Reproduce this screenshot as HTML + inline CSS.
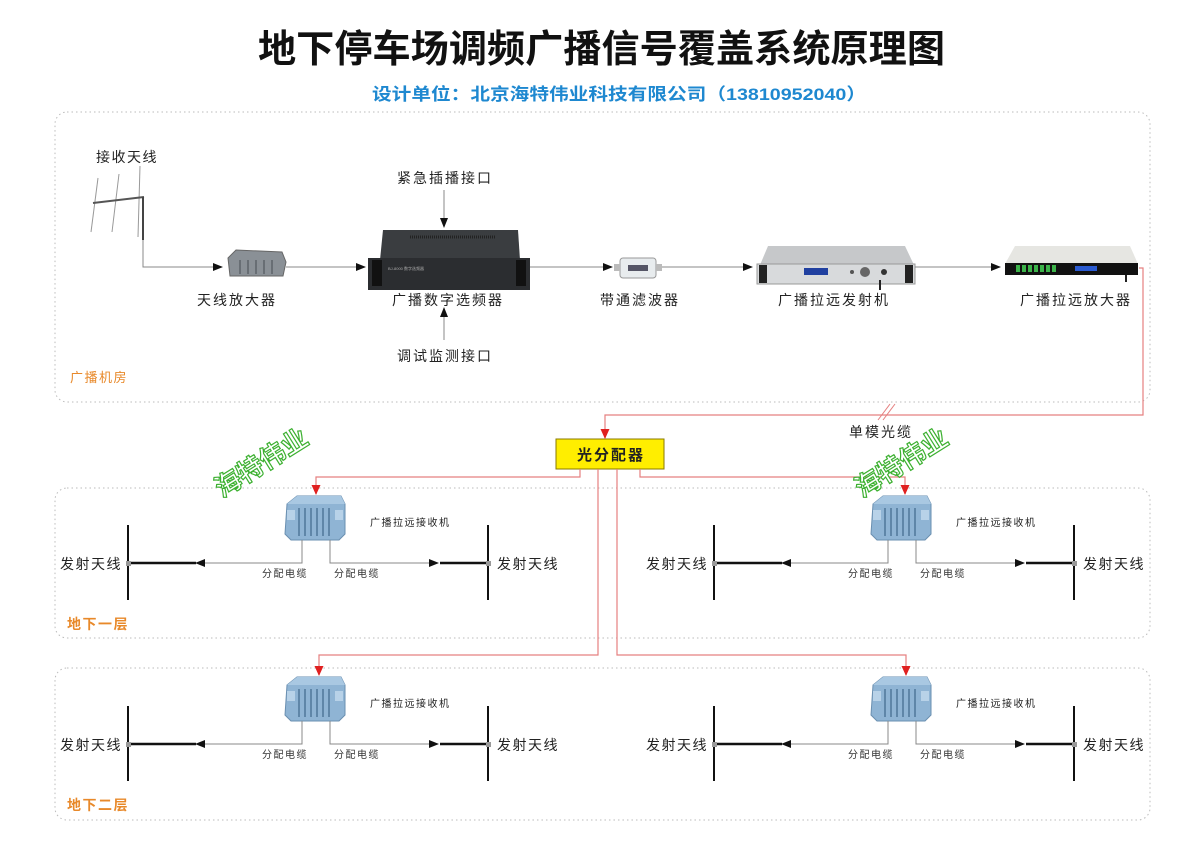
<!DOCTYPE html>
<html><head><meta charset="utf-8"><style>
html,body{margin:0;padding:0;background:#fff}
svg{display:block}
text{font-family:"Liberation Sans","Noto Sans CJK SC",sans-serif}
.l{letter-spacing:2px}
.f{letter-spacing:1.5px}
</style></head><body>
<svg width="1200" height="846" viewBox="0 0 1200 846" xmlns="http://www.w3.org/2000/svg">
<defs>
<marker id="ab" markerWidth="10" markerHeight="8" refX="9" refY="4" orient="auto" markerUnits="userSpaceOnUse"><path d="M0,0 L10,4 L0,8 z" fill="#111"/></marker>
<marker id="ar" markerWidth="10" markerHeight="9" refX="9" refY="4.5" orient="auto" markerUnits="userSpaceOnUse"><path d="M0,0 L10,4.5 L0,9 z" fill="#e02020"/></marker>
<g id="rx">
<path d="M4,8 L14,0 L58,0 L62,8 L62,38 L56,44 L8,44 L2,38 Z" fill="#8fb4d4" stroke="#6a8fb0" stroke-width="1"/>
<path d="M4,8 L14,0 L58,0 L62,8 Z" fill="#a9c8e2"/>
<g stroke="#5f86a8" stroke-width="2"><line x1="16" y1="12" x2="16" y2="40"/><line x1="22" y1="12" x2="22" y2="40"/><line x1="28" y1="12" x2="28" y2="40"/><line x1="34" y1="12" x2="34" y2="40"/><line x1="40" y1="12" x2="40" y2="40"/><line x1="46" y1="12" x2="46" y2="40"/></g>
<rect x="4" y="14" width="8" height="10" fill="#b8d2e8"/><rect x="52" y="14" width="8" height="10" fill="#b8d2e8"/>
</g>
<g id="floor">
<text x="370" y="526" font-size="10" fill="#222" class="f">广播拉远接收机</text>
<use href="#rx" x="283" y="496"/>
<polyline points="302,540 302,563 196,563" fill="none" stroke="#888" stroke-width="1" marker-end="url(#ab)"/>
<polyline points="330,540 330,563 438,563" fill="none" stroke="#888" stroke-width="1" marker-end="url(#ab)"/>
<line x1="130" y1="563" x2="196" y2="563" stroke="#111" stroke-width="2.5"/>
<line x1="440" y1="563" x2="487" y2="563" stroke="#111" stroke-width="2.5"/>
<line x1="128" y1="525" x2="128" y2="600" stroke="#111" stroke-width="2"/>
<line x1="488" y1="525" x2="488" y2="600" stroke="#111" stroke-width="2"/>
<rect x="126" y="561" width="5" height="5" fill="#999"/><rect x="486" y="561" width="5" height="5" fill="#999"/>
<text x="60" y="569" font-size="14" fill="#222" class="f">发射天线</text>
<text x="497" y="569" font-size="14" fill="#222" class="f">发射天线</text>
<text x="262" y="577" font-size="10" fill="#333" class="f">分配电缆</text>
<text x="334" y="577" font-size="10" fill="#333" class="f">分配电缆</text>
</g>
</defs>

<text x="258" y="62" font-size="38" font-weight="bold" fill="#111" textLength="687" lengthAdjust="spacingAndGlyphs">地下停车场调频广播信号覆盖系统原理图</text>
<text x="372" y="100" font-size="17" font-weight="bold" fill="#1e88d0" textLength="494" lengthAdjust="spacingAndGlyphs">设计单位：北京海特伟业科技有限公司（13810952040）</text>

<g fill="none" stroke="#bbb" stroke-width="1" stroke-dasharray="1.5,3">
<rect x="55" y="112" width="1095" height="290" rx="12"/>
<rect x="55" y="488" width="1095" height="150" rx="12"/>
<rect x="55" y="668" width="1095" height="152" rx="12"/>
</g>
<text x="70" y="382" font-size="13" fill="#e8892a" class="f">广播机房</text>
<text x="67" y="629" font-size="14" font-weight="bold" fill="#e8892a" class="f">地下一层</text>
<text x="67" y="810" font-size="14" font-weight="bold" fill="#e8892a" class="f">地下二层</text>

<text x="96" y="162" font-size="14" fill="#222" class="f">接收天线</text>
<g stroke="#999" stroke-width="1"><line x1="98" y1="178" x2="91" y2="232"/><line x1="119" y1="174" x2="112" y2="232"/><line x1="140" y1="166" x2="138" y2="237"/></g>
<line x1="93" y1="203" x2="144" y2="197" stroke="#555" stroke-width="2"/>
<line x1="143" y1="197" x2="143" y2="240" stroke="#444" stroke-width="2"/>
<polyline points="143,240 143,267 222,267" fill="none" stroke="#888" stroke-width="1" marker-end="url(#ab)"/>

<path d="M228,258 L236,250 L282,252 L286,262 L283,276 L230,276 Z" fill="#8a9096" stroke="#666"/>
<g stroke="#5d6368" stroke-width="1.5"><line x1="240" y1="260" x2="240" y2="274"/><line x1="248" y1="260" x2="248" y2="274"/><line x1="256" y1="260" x2="256" y2="274"/><line x1="264" y1="260" x2="264" y2="274"/><line x1="272" y1="260" x2="272" y2="274"/></g>
<line x1="286" y1="267" x2="365" y2="267" stroke="#888" marker-end="url(#ab)"/>
<text x="197" y="305" font-size="14" fill="#222" class="l">天线放大器</text>

<path d="M383,230 L518,230 L520,260 L380,260 Z" fill="#3a3d40"/>
<line x1="410" y1="237" x2="495" y2="237" stroke="#222" stroke-width="3" stroke-dasharray="1,1"/>
<rect x="368" y="258" width="162" height="32" fill="#2b2d30"/>
<rect x="372" y="260" width="10" height="26" fill="#111"/><rect x="516" y="260" width="10" height="26" fill="#111"/>
<text x="388" y="270" font-size="4" fill="#aaa">BJ-8000 数字选频器</text>
<line x1="444" y1="190" x2="444" y2="227" stroke="#888" marker-end="url(#ab)"/>
<line x1="444" y1="340" x2="444" y2="308" stroke="#888" marker-end="url(#ab)"/>
<text x="397" y="183" font-size="14" fill="#222" class="l">紧急插播接口</text>
<text x="392" y="305" font-size="14" fill="#222" class="l">广播数字选频器</text>
<text x="397" y="361" font-size="14" fill="#222" class="l">调试监测接口</text>
<line x1="530" y1="267" x2="612" y2="267" stroke="#888" marker-end="url(#ab)"/>

<rect x="620" y="258" width="36" height="20" rx="3" fill="#e8ecee" stroke="#999"/>
<rect x="614" y="264" width="6" height="7" fill="#bbb"/><rect x="656" y="264" width="6" height="7" fill="#bbb"/>
<rect x="628" y="265" width="20" height="6" fill="#556"/>
<line x1="662" y1="267" x2="752" y2="267" stroke="#888" marker-end="url(#ab)"/>
<text x="600" y="305" font-size="14" fill="#222" class="l">带通滤波器</text>

<path d="M768,246 L905,246 L914,265 L760,265 Z" fill="#c6c8ca"/>
<rect x="757" y="264" width="158" height="20" fill="#d8dadc" stroke="#999"/>
<rect x="759" y="265" width="8" height="18" fill="#222"/><rect x="905" y="265" width="8" height="18" fill="#222"/>
<rect x="804" y="268" width="24" height="7" fill="#2040a0"/>
<circle cx="865" cy="272" r="5" fill="#666"/><circle cx="852" cy="272" r="2" fill="#555"/><circle cx="884" cy="272" r="3" fill="#333"/>
<line x1="880" y1="280" x2="880" y2="290" stroke="#222" stroke-width="2"/>
<line x1="915" y1="267" x2="1000" y2="267" stroke="#888" marker-end="url(#ab)"/>
<text x="778" y="305" font-size="14" fill="#222" class="l">广播拉远发射机</text>

<path d="M1015,246 L1130,246 L1138,264 L1005,264 Z" fill="#e6e6e2"/>
<rect x="1005" y="263" width="133" height="12" fill="#111"/>
<g fill="#3cb34a"><rect x="1016" y="265" width="4" height="7"/><rect x="1022" y="265" width="4" height="7"/><rect x="1028" y="265" width="4" height="7"/><rect x="1034" y="265" width="4" height="7"/><rect x="1040" y="265" width="4" height="7"/><rect x="1046" y="265" width="4" height="7"/><rect x="1052" y="265" width="4" height="7"/></g>
<rect x="1075" y="266" width="22" height="5" fill="#2a5ad0"/>
<line x1="1126" y1="275" x2="1126" y2="282" stroke="#222" stroke-width="2"/>
<text x="1020" y="305" font-size="14" fill="#222" class="l">广播拉远放大器</text>

<polyline points="1139,268 1143,268 1143,415 605,415 605,438" fill="none" stroke="#e58080" stroke-width="1.2" marker-end="url(#ar)"/>
<g stroke="#e58080" stroke-width="1"><line x1="878" y1="420" x2="890" y2="404"/><line x1="883" y1="420" x2="895" y2="404"/></g>
<text x="849" y="437" font-size="14" fill="#222" class="l">单模光缆</text>

<rect x="556" y="439" width="108" height="30" fill="#ffee00" stroke="#8a7a00" stroke-width="1"/>
<text x="611" y="460" font-size="15" font-weight="bold" fill="#222" text-anchor="middle" class="l">光分配器</text>

<g fill="none" stroke="#e58080" stroke-width="1.2">
<polyline points="580,469 580,477 316,477 316,494" marker-end="url(#ar)"/>
<polyline points="640,469 640,477 905,477 905,494" marker-end="url(#ar)"/>
<polyline points="598,469 598,655 319,655 319,675" marker-end="url(#ar)"/>
<polyline points="617,469 617,655 906,655 906,675" marker-end="url(#ar)"/>
</g>

<use href="#floor"/>
<use href="#floor" transform="translate(586,0)"/>
<use href="#floor" transform="translate(0,181)"/>
<use href="#floor" transform="translate(586,181)"/>

<g font-size="26" font-weight="bold" fill="#fff" stroke="#3cb030" stroke-width="1.2">
<text transform="translate(222,498) rotate(-32)">海特伟业</text>
<text transform="translate(862,498) rotate(-32)">海特伟业</text>
</g>
</svg>
</body></html>
